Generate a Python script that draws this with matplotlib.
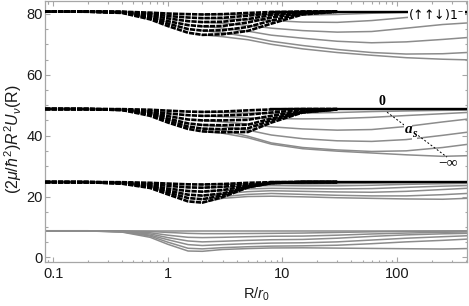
import matplotlib
matplotlib.use("Agg")
import matplotlib.pyplot as plt
from matplotlib.ticker import FixedLocator, FixedFormatter, LogLocator, MultipleLocator, NullFormatter

plt.rcParams['font.family'] = ['Liberation Sans', 'DejaVu Sans']
plt.rcParams['mathtext.fontset'] = 'custom'
plt.rcParams['mathtext.rm'] = 'Liberation Sans'
plt.rcParams['mathtext.it'] = 'Liberation Sans:italic'
plt.rcParams['mathtext.bf'] = 'Liberation Sans:bold'

# ---------------- data ----------------
R_FULL = [0.085, 0.2, 0.4, 0.7, 1.0, 1.5, 2.0, 3.0, 5.0, 8.0, 15, 30, 60, 120, 250, 404]
R_DASH = [0.085, 0.2, 0.4, 0.7, 1.0, 1.5, 2.0, 3.0, 5.0, 8.0, 15, 30]
R_GRAY = [2.0, 3.0, 5.0, 8.0, 15, 30, 60, 120, 250, 404]
R_LEVEL = [8, 404]
LEVELS = [8.75, 24.75, 48.75, 80.75]

# lowest channel (gray only, full range)
g1_c0 = [8.75] * 16
g1_c1 = [8.75, 8.75, 8.7, 8.5, 8.2, 7.9, 7.8, 7.8, 7.85, 7.9, 8.0, 8.2, 8.4, 8.55, 8.65, 8.7]
g1_c2 = [8.75, 8.75, 8.6, 8.1, 7.3, 6.6, 6.5, 6.6, 6.8, 6.95, 7.0, 7.3, 7.7, 8.0, 8.25, 8.35]
g1_c3 = [8.75, 8.75, 8.5, 7.7, 6.5, 5.4, 5.1, 5.3, 5.6, 5.8, 5.9, 6.3, 6.9, 7.4, 7.75, 7.9]
g1_c4 = [8.75, 8.75, 8.45, 7.3, 5.8, 4.2, 3.9, 4.2, 4.5, 4.7, 4.8, 5.1, 5.7, 6.3, 6.8, 7.1]
g1_c5 = [8.75, 8.7, 8.4, 7.0, 5.0, 3.0, 2.8, 3.2, 3.5, 3.7, 3.8, 4.0, 4.5, 5.1, 5.6, 6.0]
g1_c6 = [8.75, 8.7, 8.3, 6.6, 4.3, 2.1, 2.0, 2.6, 2.9, 3.1, 3.15, 3.05, 2.95, 2.85, 2.75, 2.9]

# second channel
g2_d1 = [24.75, 24.75, 24.7, 24.5, 24.25, 24.0, 23.95, 24.1, 24.5, 24.7, 24.75, 24.75]
g2_d2 = [24.75, 24.75, 24.6, 24.1, 23.5, 23.0, 22.9, 23.2, 24.0, 24.6, 24.75, 24.75]
g2_d3 = [24.75, 24.75, 24.5, 23.7, 22.6, 21.8, 21.6, 22.1, 23.6, 24.5, 24.75, 24.75]
g2_d4 = [24.75, 24.7, 24.4, 23.4, 21.9, 20.6, 20.3, 21.0, 23.3, 24.45, 24.75, 24.75]
g2_d5 = [24.75, 24.7, 24.3, 23.1, 21.3, 19.5, 19.1, 20.4, 23.1, 24.4, 24.75, 24.75]
g2_d6 = [24.75, 24.7, 24.2, 22.8, 20.7, 18.4, 18.0, 19.8, 23.0, 24.4, 24.75, 24.75]
g2_c1 = [23.95, 24.0, 24.1, 24.2, 24.1, 24.2, 24.4, 24.55, 24.6, 24.65]
g2_c2 = [22.9, 23.1, 23.4, 23.6, 23.5, 23.5, 23.7, 24.0, 24.2, 24.3]
g2_c3 = [21.6, 22.0, 22.5, 22.7, 22.6, 22.5, 22.6, 23.0, 23.4, 23.6]
g2_c4 = [20.3, 20.9, 21.6, 21.9, 21.7, 21.5, 21.4, 21.7, 22.3, 22.7]
g2_c5 = [19.1, 20.0, 20.7, 21.0, 20.7, 20.4, 20.2, 20.2, 20.6, 21.0]
g2_c6 = [18.0, 19.4, 20.0, 20.1, 19.9, 19.6, 19.4, 19.2, 19.1, 19.4]

# third channel
g3_d1 = [48.75, 48.75, 48.7, 48.5, 48.2, 47.9, 47.8, 47.9, 48.3, 48.6, 48.75, 48.75]
g3_d2 = [48.75, 48.75, 48.6, 48.0, 47.3, 46.7, 46.5, 46.6, 46.9, 47.6, 48.4, 48.7]
g3_d3 = [48.75, 48.75, 48.5, 47.6, 46.4, 45.3, 45.0, 45.0, 45.2, 46.5, 48.0, 48.65]
g3_d4 = [48.75, 48.7, 48.5, 47.3, 45.6, 44.0, 43.5, 43.4, 43.6, 45.6, 47.8, 48.6]
g3_d5 = [48.75, 48.7, 48.4, 47.0, 45.0, 43.0, 42.3, 42.1, 42.4, 45.0, 47.7, 48.6]
g3_d6 = [48.75, 48.7, 48.4, 46.5, 44.3, 42.2, 41.4, 41.1, 41.2, 44.3, 47.6, 48.6]
g3_c1 = [47.8, 47.6, 47.4, 47.3, 47.4, 47.6, 47.9, 48.1, 48.3, 48.4]
g3_c2 = [46.5, 46.2, 45.9, 45.6, 45.5, 45.6, 46.0, 46.6, 47.2, 47.6]
g3_c3 = [45.0, 44.5, 43.8, 42.9, 42.2, 41.8, 42.0, 43.0, 44.5, 45.4]
g3_c4 = [43.5, 43.0, 41.8, 40.2, 39.0, 38.3, 38.1, 38.7, 40.1, 41.1]
g3_c5 = [42.3, 41.8, 39.8, 37.6, 36.1, 35.3, 34.8, 35.0, 36.1, 37.1]
g3_c6 = [41.4, 40.8, 39.3, 37.2, 35.7, 34.9, 34.3, 33.7, 33.2, 33.4]

# fourth channel
g4_d1 = [80.75, 80.75, 80.7, 80.4, 80.1, 79.9, 79.8, 79.9, 80.3, 80.6, 80.75, 80.75]
g4_d2 = [80.75, 80.75, 80.65, 80.0, 79.3, 78.8, 78.6, 78.7, 79.4, 80.2, 80.7, 80.75]
g4_d3 = [80.75, 80.75, 80.6, 79.5, 78.5, 77.6, 77.3, 77.4, 78.3, 79.6, 80.6, 80.75]
g4_d4 = [80.75, 80.75, 80.5, 79.0, 77.6, 76.3, 75.9, 76.0, 77.2, 78.8, 80.4, 80.75]
g4_d5 = [80.75, 80.7, 80.4, 78.6, 76.8, 75.0, 74.5, 74.6, 75.7, 77.8, 80.1, 80.7]
g4_d6 = [80.75, 80.7, 80.3, 78.2, 76.0, 73.8, 73.1, 73.3, 74.4, 76.8, 79.8, 80.7]
g4_c1 = [79.8, 79.8, 79.8, 79.8, 79.6, 79.8, 80.2, 80.5, 80.6, 80.65]
g4_c2 = [78.6, 78.4, 78.1, 77.8, 77.3, 77.2, 77.8, 78.8, 79.6, 79.9]
g4_c3 = [77.3, 76.9, 76.2, 75.3, 74.5, 74.0, 74.2, 75.3, 76.5, 77.0]
g4_c4 = [75.9, 75.3, 74.3, 73.0, 72.0, 71.0, 70.5, 70.8, 71.6, 72.2]
g4_c5 = [74.5, 73.8, 72.5, 71.0, 69.6, 68.3, 67.3, 66.8, 66.9, 67.3]
g4_c6 = [73.1, 72.5, 71.5, 70.0, 68.5, 67.3, 66.4, 65.6, 65.1, 64.9]

XTICKS = [0.1, 1, 10, 100]
XTICK_LABELS = ['0.1', '1', '10', '100']
YTICKS = [0, 20, 40, 60, 80]
YTICK_LABELS = ['0', '20', '40', '60', '80']

# ---------------- plot ----------------
GRAY = '#8c8c8c'
FRAME = '#a6a6a6'
fig = plt.figure(figsize=(4.69, 3.06), dpi=100)
ax = fig.add_axes([0.0966, 0.1448, 0.8984, 0.8512])

full_gray = [g1_c0, g1_c1, g1_c2, g1_c3, g1_c4, g1_c5, g1_c6]
for c in full_gray:
    ax.plot(R_FULL, c, color=GRAY, lw=1.1, zorder=2, solid_joinstyle='round')

gray_sets = [g2_c1, g2_c2, g2_c3, g2_c4, g2_c5, g2_c6,
             g3_c1, g3_c2, g3_c3, g3_c4, g3_c5, g3_c6,
             g4_c1, g4_c2, g4_c3, g4_c4, g4_c5, g4_c6]
for c in gray_sets:
    ax.plot(R_GRAY, c, color=GRAY, lw=1.1, zorder=2, solid_joinstyle='round')

dash_sets = [g2_d1, g2_d2, g2_d3, g2_d4, g2_d5, g2_d6,
             g3_d1, g3_d2, g3_d3, g3_d4, g3_d5, g3_d6,
             g4_d1, g4_d2, g4_d3, g4_d4, g4_d5, g4_d6]
for d in dash_sets:
    ax.plot(R_DASH, d, color='black', lw=1.9, linestyle=(0, (2.0, 0.42)), zorder=3,
            dash_capstyle='butt', dash_joinstyle='miter')

for lev in LEVELS[1:]:
    ax.plot(R_LEVEL, [lev, lev], color='black', lw=1.7, zorder=4)

ax.set_xscale('log')
ax.set_xlim(0.0852, 404.6)
ax.set_ylim(-1.41, 84.15)

ax.xaxis.set_major_locator(FixedLocator(XTICKS))
ax.xaxis.set_major_formatter(FixedFormatter(XTICK_LABELS))
ax.xaxis.set_minor_locator(LogLocator(base=10, subs=[2, 3, 4, 5, 6, 7, 8, 9, 0.9]))
ax.xaxis.set_minor_formatter(NullFormatter())
ax.yaxis.set_major_locator(FixedLocator(YTICKS))
ax.yaxis.set_major_formatter(FixedFormatter(YTICK_LABELS))
ax.yaxis.set_minor_locator(MultipleLocator(5))

ax.tick_params(which='both', direction='in', top=True, right=True, color=FRAME, width=0.8)
ax.tick_params(which='major', length=3.4)
ax.tick_params(which='minor', length=1.8)
ax.tick_params(axis='both', labelsize=10.5, labelcolor='#1a1a1a')
ax.tick_params(axis='x', pad=4)
ax.tick_params(axis='y', pad=2)
for s in ax.spines.values():
    s.set_color(FRAME)
    s.set_linewidth(0.9)

ax.set_xlabel(r'R/$r_0$', fontsize=10.5, labelpad=3, color='#1a1a1a')
ax.set_ylabel(r'$(2\mu/\hbar^2)R^2U_\nu(\mathrm{R})$', fontsize=11.5, color='#1a1a1a')
ax.yaxis.set_label_coords(-0.05, 0.47)

# annotations
ax.text(220, 79.9, r'(↑↑↓)1$^{-}$', fontsize=9, family='DejaVu Sans', ha='center', va='center',
        zorder=6, bbox=dict(facecolor='white', edgecolor='none', pad=0.3))
ax.plot([81.7, 272.5], [47.7, 32.95], color='black', lw=0.7, linestyle=(0, (2, 2)), zorder=5)
ax.text(73.4, 51.1, '0', fontsize=10, family='Liberation Serif', weight='bold',
        ha='center', va='center', zorder=6)
ax.text(125, 42.1, 'a', fontsize=11, family='Liberation Serif', weight='bold', style='italic',
        ha='center', va='center', zorder=6,
        bbox=dict(facecolor='white', edgecolor='none', pad=0.2))
ax.text(141, 40.6, 's', fontsize=8.5, family='Liberation Serif', weight='bold', style='italic',
        ha='center', va='center', zorder=6,
        bbox=dict(facecolor='white', edgecolor='none', pad=0.1))
ax.text(279.8, 31.1, '−∞', fontsize=11, family='Liberation Serif',
        ha='center', va='center', zorder=6)

fig.savefig('out.png', dpi=100)
